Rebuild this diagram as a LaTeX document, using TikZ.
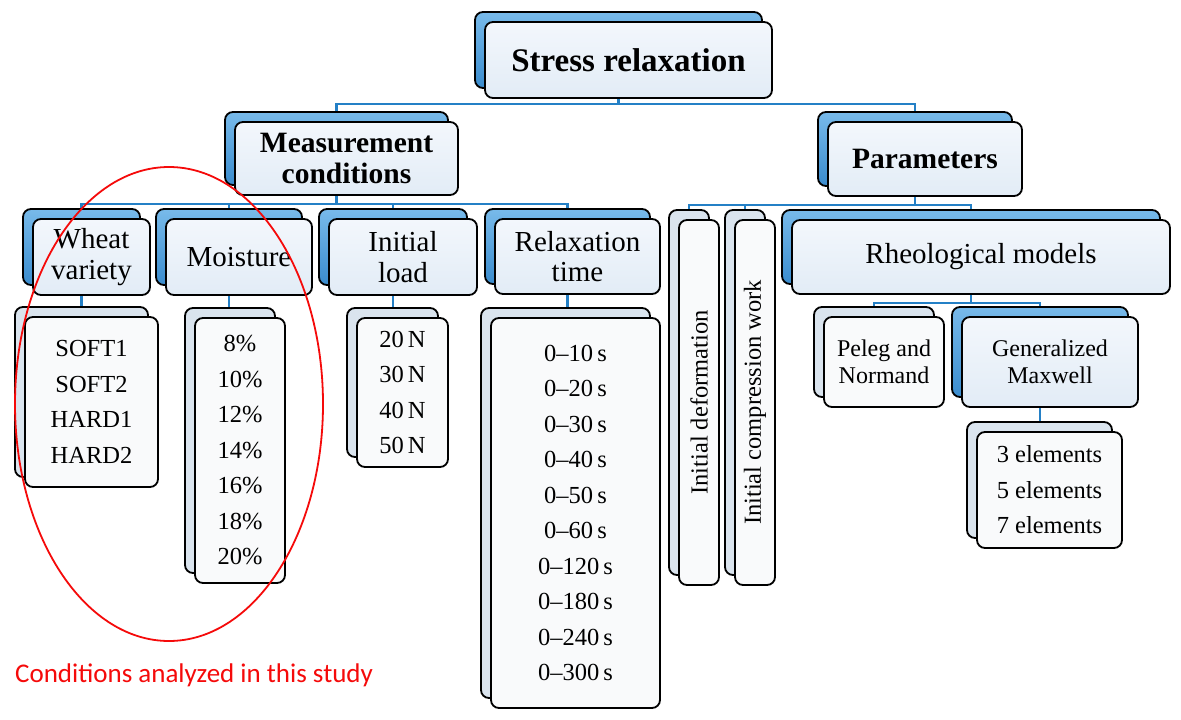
\documentclass[tikz,border=0pt]{standalone}
\usepackage{fontspec}
\setmainfont{Liberation Serif}
\newfontfamily\redfont{Carlito}
\pgfdeclarelayer{paper}
\pgfdeclarelayer{bg}
\pgfsetlayers{paper,bg,main}
\definecolor{conn}{RGB}{36,128,198}
\definecolor{bblueT}{RGB}{120,186,234}
\definecolor{bblueB}{RGB}{58,140,206}
\definecolor{lback}{RGB}{218,228,238}
\definecolor{hfT}{RGB}{243,247,252}
\definecolor{hfB}{RGB}{226,236,246}
\definecolor{lfront}{RGB}{249,250,251}
\definecolor{redline}{RGB}{245,10,10}
\newcommand\fTop{\fontsize{33}{36}\selectfont\bfseries}
\newcommand\fMid{\fontsize{29.5}{31}\selectfont\bfseries}
\newcommand\fHead{\fontsize{29}{30.5}\selectfont}
\newcommand\fSmall{\fontsize{24}{27}\selectfont}
\newcommand\fList{\fontsize{24.5}{35.5}\selectfont}
\newcommand\fVert{\fontsize{24.5}{26}\selectfont}
\tikzset{
 card/.style={draw=black, line width=1.8pt, rounded corners=8pt, inner sep=0pt, outer sep=0pt, anchor=north west, align=center},
 blueback/.style={card, top color=bblueT, bottom color=bblueB},
 lightback/.style={card, fill=lback},
 headfront/.style={card, top color=hfT, bottom color=hfB},
 listfront/.style={card, fill=lfront},
 wire/.style={draw=conn, line width=2.3pt},
}
\newcommand\cardpair[8]{%
 \node[#6, minimum width={#4-#2-10}, minimum height={#5-#3-10}] (#1B) at (#2,#3) {};
 \node[#7, minimum width={#4-#2-10}, minimum height={#5-#3-10}] (#1) at ({#2+10},{#3+10}) {#8};}
\begin{document}
\begin{tikzpicture}[x=1pt,y=-1pt]
\begin{pgfonlayer}{paper}
\fill[white] (0,0) rectangle (1181,720);
\end{pgfonlayer}
\useasboundingbox (0,0) rectangle (1181,720);
% level 0
\cardpair{sr}{475}{12}{772}{98}{blueback}{headfront,font=\fTop}{Stress relaxation}
% level 1
\cardpair{mc}{225}{112}{458}{195}{blueback}{headfront,font=\fMid}{Measurement\\conditions}
\cardpair{pa}{818}{112}{1022}{196}{blueback}{headfront,font=\fMid}{Parameters}
% level 2
\cardpair{wv}{23}{209}{150}{295}{blueback}{headfront,font=\fHead}{Wheat\\variety}
\cardpair{mo}{156}{209}{312}{295}{blueback}{headfront,font=\fHead}{Moisture}
\cardpair{il}{319}{209}{477}{295}{blueback}{headfront,font=\fHead}{Initial\\load}
\cardpair{rt}{485}{209}{660}{294}{blueback}{headfront,font=\fHead}{Relaxation\\time}
\cardpair{id}{669}{210}{719}{585}{lightback}{listfront}{}
\cardpair{ic}{725}{210}{775}{585}{lightback}{listfront}{}
\node[rotate=90, font=\fVert] (idT) at (id.center) {Initial deformation};
\node[rotate=90, font=\fVert] (icT) at (ic.center) {Initial compression work};
\cardpair{rm}{782}{210}{1170}{294}{blueback}{headfront,font=\fHead}{Rheological models}
% level 3
\cardpair{pn}{814}{307}{944}{407}{lightback}{listfront,font=\fSmall}{Peleg and\\Normand}
\cardpair{gm}{952}{307}{1138}{407}{blueback}{headfront,font=\fSmall}{Generalized\\Maxwell}
\cardpair{wl}{15}{307}{158}{487}{lightback}{listfront,font=\fList}{SOFT1\\SOFT2\\HARD1\\HARD2}
\cardpair{ml}{185}{308}{285}{583}{lightback}{listfront,font=\fList}{8\%\\10\%\\12\%\\14\%\\16\%\\18\%\\20\%}
\cardpair{ll}{347}{308}{448}{467}{lightback}{listfront,font=\fList}{20\,N\\30\,N\\40\,N\\50\,N}
\cardpair{rl}{481}{308}{660}{708}{lightback}{listfront,font=\fList}{0–10\,s\\0–20\,s\\0–30\,s\\0–40\,s\\0–50\,s\\0–60\,s\\0–120\,s\\0–180\,s\\0–240\,s\\0–300\,s}
\cardpair{el}{967}{422}{1122}{548}{lightback}{listfront,font=\fList}{3 elements\\5 elements\\7 elements}
% connectors
\coordinate (bus1) at (0,104);
\coordinate (bus2) at (0,204);
\coordinate (bus3) at (0,205);
\coordinate (bus4) at (0,303);
\begin{pgfonlayer}{bg}
\draw[wire] (srB.south) -- (srB.south |- bus1);
\draw[wire] (mcB.north) -- (mcB.north |- bus1) -- (paB.north |- bus1) -- (paB.north);
\draw[wire] (mcB.south) -- (mcB.south |- bus2);
\draw[wire] (wvB.north) -- (wvB.north |- bus2) -- (rtB.north |- bus2) -- (rtB.north);
\draw[wire] (moB.north) -- (moB.north |- bus2);
\draw[wire] (ilB.north) -- (ilB.north |- bus2);
\draw[wire] (paB.south) -- (paB.south |- bus3);
\draw[wire] (idB.north) -- (idB.north |- bus3) -- (rmB.north |- bus3) -- (rmB.north);
\draw[wire] (icB.north) -- (icB.north |- bus3);
\draw[wire] (rmB.south) -- (rmB.south |- bus4);
\draw[wire] (pnB.north) -- (pnB.north |- bus4) -- (gmB.north |- bus4) -- (gmB.north);
\draw[wire] (wvB.south) -- (wvB.south |- wlB.north);
\draw[wire] (moB.south) -- (moB.south |- mlB.north);
\draw[wire] (ilB.south) -- (ilB.south |- llB.north);
\draw[wire] (rtB.south) -- (rtB.south |- rlB.north);
\draw[wire] (gmB.south) -- (gmB.south |- elB.north);
\end{pgfonlayer}
% annotation
\draw[redline, line width=1.8pt] (169,404) ellipse [x radius=154pt, y radius=237pt];
\node[anchor=base west, text=redline, font=\redfont\fontsize{27}{30}\selectfont, inner sep=0pt] (note) at (15,682) {Conditions analyzed in this study};
\end{tikzpicture}
\end{document}
